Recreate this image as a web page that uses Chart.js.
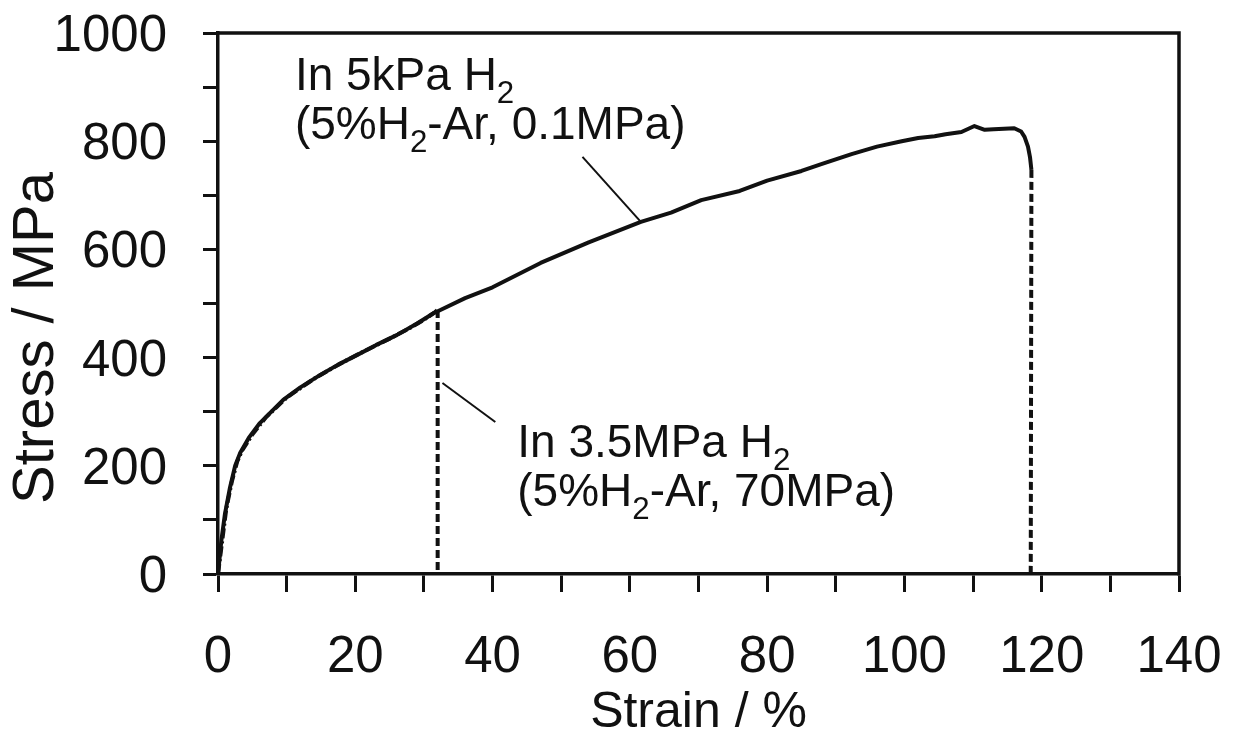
<!DOCTYPE html>
<html>
<head>
<meta charset="utf-8">
<script src="https://cdn.jsdelivr.net/npm/chart.js@4.4.1/dist/chart.umd.min.js"></script>
<style>
  html, body { margin: 0; padding: 0; background: #fff; }
  #wrap { width: 1235px; height: 737px; position: relative; }
</style>
</head>
<body>
<div id="wrap"><canvas id="stressChart"></canvas></div>
<script>
// Stress-strain data
const strain5k = [0, 0.5, 1.0, 1.75, 2.5, 3.2, 4.5, 6.1, 8, 9.5, 12, 14.9, 17.5, 20.3, 23, 26.1, 29, 31.4,
  32.4, 36, 40, 47, 54, 61.6, 66, 70.4, 76, 80, 85, 88, 92.3, 96, 99.6, 102, 104.4, 106, 108.3, 110.2,
  111.7, 113, 116, 117, 117.5, 118, 118.3, 118.5, 118.4];
const stress5k = [0, 63, 110, 160, 200, 223, 252, 279, 303, 322, 345, 368, 387, 405, 423, 442, 463, 482,
  488, 510, 530, 575, 613, 651, 668, 691, 708, 727, 745, 758, 776, 790, 800, 806, 809, 813, 817, 828,
  821, 822, 824, 818, 808, 790, 770, 747, 0];

const strain35 = [0, 0.6, 1.2, 2, 2.8, 3.5, 5, 7, 10, 14, 18, 21, 25, 28, 30, 31.5, 32, 32];
const stress35 = [0, 60, 120, 170, 208, 228, 258, 290, 326, 361, 390, 410, 435, 455, 470, 483, 488, 0];

const xTicks = [0, 20, 40, 60, 80, 100, 120, 140];
const yTicks = [0, 200, 400, 600, 800, 1000];

const FONT = "'Liberation Sans', Arial, Helvetica, sans-serif";
const INK = "#111";

const toPoints = (xs, ys) => xs.map((x, i) => ({ x: x, y: ys[i] }));

// labels and leader lines, in data units
const notes = [
  { x: 11.2, y: 895, lines: [[["In 5kPa H", 0], ["2", 1]], [["(5%H", 0], ["2", 1], ["-Ar, 0.1MPa)", 0]]],
    lead: [53.1, 771, 61.6, 651] },
  { x: 43.6, y: 216, lines: [[["In 3.5MPa H", 0], ["2", 1]], [["(5%H", 0], ["2", 1], ["-Ar, 70MPa)", 0]]],
    lead: [32.7, 353, 40.4, 281] }
];

function drawRich(ctx, parts, x, y, size) {
  let cx = x;
  parts.forEach(p => {
    const s = p[1] ? size * 0.68 : size;
    ctx.font = s + "px " + FONT;
    ctx.fillText(p[0], cx, y + (p[1] ? size * 0.28 : 0));
    cx += ctx.measureText(p[0]).width;
  });
}

const decor = {
  id: "decor",
  afterDraw(chart) {
    const { ctx, chartArea: a, scales } = chart;
    const xs = scales.x, ys = scales.y;
    ctx.save();
    // frame top and right
    ctx.strokeStyle = INK;
    ctx.lineWidth = 3.5;
    ctx.beginPath();
    ctx.moveTo(a.left - 1.5, a.top);
    ctx.lineTo(a.right, a.top);
    ctx.lineTo(a.right, a.bottom + 1.5);
    ctx.stroke();

    // tick labels
    ctx.fillStyle = INK;
    ctx.textBaseline = "alphabetic";
    ctx.font = "51px " + FONT;
    ctx.textAlign = "center";
    xTicks.forEach(v => ctx.fillText(String(v), xs.getPixelForValue(v), a.bottom + 98));
    ctx.textAlign = "right";
    yTicks.forEach(v => ctx.fillText(String(v), a.left - 51, ys.getPixelForValue(v) + 18));

    // notes
    ctx.textAlign = "left";
    notes.forEach(n => {
      const px = xs.getPixelForValue(n.x);
      const py = ys.getPixelForValue(n.y);
      n.lines.forEach((ln, i) => drawRich(ctx, ln, px, py + i * 49, 46));
      ctx.lineWidth = 2;
      ctx.beginPath();
      ctx.moveTo(xs.getPixelForValue(n.lead[0]), ys.getPixelForValue(n.lead[1]));
      ctx.lineTo(xs.getPixelForValue(n.lead[2]), ys.getPixelForValue(n.lead[3]));
      ctx.stroke();
    });

    // axis titles
    ctx.font = "50px " + FONT;
    ctx.textAlign = "center";
    ctx.fillText("Strain / %", (a.left + a.right) / 2, 727);
    ctx.font = "58px " + FONT;
    ctx.translate(53, 338);
    ctx.rotate(-Math.PI / 2);
    ctx.fillText("Stress / MPa", 0, 0);
    ctx.restore();
  }
};

const curve = (label, xs, ys, dash) => ({
  label: label,
  data: toPoints(xs, ys),
  showLine: true,
  borderColor: INK,
  borderWidth: 4,
  pointRadius: 0,
  borderJoinStyle: "round",
  borderDash: dash
});

// fracture drops: last two points of each series, drawn dashed
const drop = (xs, ys) => ({
  data: toPoints(xs.slice(-2), ys.slice(-2)),
  showLine: true,
  borderColor: INK,
  borderWidth: 4,
  pointRadius: 0,
  borderDash: [8, 4]
});

new Chart(document.getElementById("stressChart"), {
  type: "scatter",
  data: {
    datasets: [
      curve("In 3.5MPa H2", strain35.slice(0, -1), stress35.slice(0, -1), [10, 3, 2, 3]),
      drop(strain35, stress35),
      curve("In 5kPa H2", strain5k.slice(0, -1), stress5k.slice(0, -1), []),
      drop(strain5k, stress5k)
    ]
  },
  options: {
    responsive: true,
    maintainAspectRatio: false,
    animation: false,
    layout: { padding: { top: 33, right: 56, left: 0, bottom: 0 } },
    plugins: { legend: { display: false }, tooltip: { enabled: false } },
    scales: {
      x: {
        type: "linear",
        min: 0, max: 140,
        afterFit: s => { s.height = 163; },
        border: { display: true, color: INK, width: 3.5 },
        grid: { drawOnChartArea: false, tickLength: 18, tickWidth: 3, tickColor: INK },
        ticks: { stepSize: 10, display: false }
      },
      y: {
        type: "linear",
        min: 0, max: 1000,
        afterFit: s => { s.width = 218; },
        border: { display: true, color: INK, width: 3.5 },
        grid: { drawOnChartArea: false, tickLength: 15, tickWidth: 3, tickColor: INK },
        ticks: { stepSize: 100, display: false }
      }
    }
  },
  plugins: [decor]
});
</script>
</body>
</html>
